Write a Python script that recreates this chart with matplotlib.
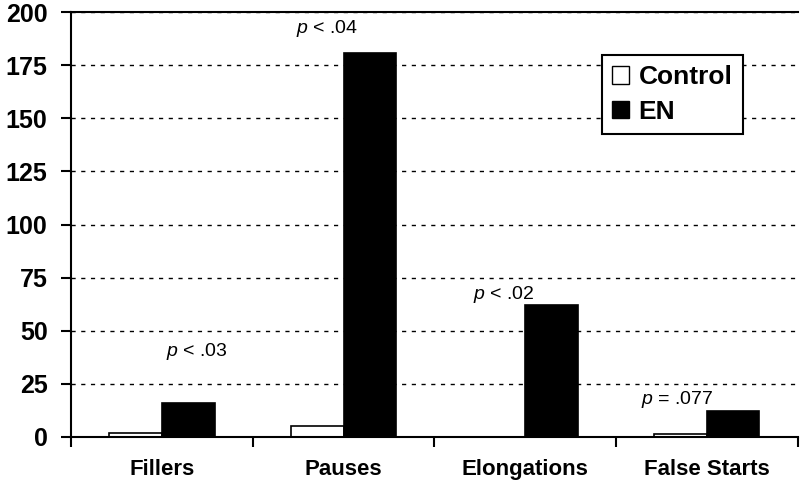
import matplotlib.pyplot as plt
import numpy as np
from matplotlib.patches import Patch

plt.rcParams['font.family'] = ['Liberation Sans', 'DejaVu Sans']
plt.rcParams['mathtext.fontset'] = 'custom'
plt.rcParams['mathtext.it'] = 'Liberation Sans:italic'
plt.rcParams['mathtext.rm'] = 'Liberation Sans'

categories = ['Fillers', 'Pauses', 'Elongations', 'False Starts']
control = [2, 5, 0, 1.5]
en = [16, 181, 62, 12]
p_labels = ['< .03', '< .04', '< .02', '= .077']
p_y = [38, 190, 65, 15.5]
p_x = [0.19, -0.09, -0.12, -0.165]

fig = plt.figure(figsize=(8, 4.87), dpi=100)
ax = fig.add_axes([0.089, 0.103, 0.908, 0.872])

x = np.arange(len(categories))
w = 0.29
ax.bar(x - w / 2, control, w, color='white', edgecolor='black', linewidth=1.2, label='Control')
ax.bar(x + w / 2, en, w, color='black', edgecolor='black', linewidth=1.2, label='EN')

for xi, dx, yv, lab in zip(x, p_x, p_y, p_labels):
    ax.text(xi + dx, yv, r'$\it{p}$ ' + lab, ha='center', va='baseline', fontsize=14)

ax.set_xlim(-0.5, 3.5)
ax.set_ylim(0, 200)
ax.set_yticks(np.arange(0, 201, 25))
ax.set_yticklabels([str(v) for v in range(0, 201, 25)], fontsize=18, fontweight='bold')
ax.set_xticks([-0.5, 0.5, 1.5, 2.5, 3.5])
ax.set_xticklabels([])
ax.set_xticks(x, minor=True)
ax.set_xticklabels(categories, minor=True, fontsize=16, fontweight='bold')
ax.tick_params(axis='x', which='minor', length=0, pad=16)
ax.tick_params(axis='x', which='major', length=7, width=1.5, direction='out')
ax.tick_params(axis='y', length=7, width=1.5, direction='out', pad=10)

ax.yaxis.grid(True, linestyle=(0, (3, 4)), color='black', linewidth=1)
ax.set_axisbelow(True)
ax.spines['right'].set_visible(False)
ax.spines['left'].set_linewidth(1.5)
ax.spines['bottom'].set_linewidth(1.5)
ax.spines['top'].set_linewidth(1.5)

handles = [Patch(facecolor='white', edgecolor='black', label='Control'),
           Patch(facecolor='black', edgecolor='black', label='EN')]
leg = ax.legend(handles=handles, loc='upper right', bbox_to_anchor=(0.925, 0.9),
                prop={'size': 19, 'weight': 'bold'}, handlelength=0.65, handleheight=0.65,
                handletextpad=0.35, fancybox=False, edgecolor='black', framealpha=1,
                borderpad=0.4, labelspacing=0.4, borderaxespad=0)
leg.get_frame().set_linewidth(1.5)

fig.savefig('out.png', dpi=100)
